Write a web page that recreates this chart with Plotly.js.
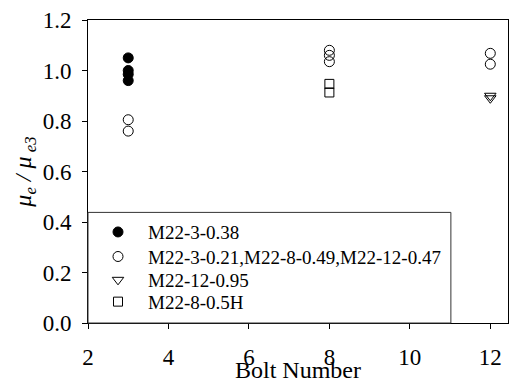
<!DOCTYPE html>
<html>
<head>
<meta charset="utf-8">
<script src="https://cdn.plot.ly/plotly-3.0.1.min.js"></script>
<style>
  html, body { margin: 0; padding: 0; background: #fff; }
  #chart { width: 511px; height: 383px; }
</style>
</head>
<body>
<div id="chart"></div>
<script>
// Normalised friction coefficient against bolt number
const seriesNames = [
  'M22-3-0.38',
  'M22-3-0.21,M22-8-0.49,M22-12-0.47',
  'M22-12-0.95',
  'M22-8-0.5H'
];
const boltsFilled = [3, 3, 3, 3];
const ratioFilled = [1.05, 1.00, 0.985, 0.96];

const boltsOpen = [3, 3, 8, 8, 8, 12, 12];
const ratioOpen = [0.805, 0.76, 1.08, 1.06, 1.035, 1.068, 1.025];

const boltsTriangle = [12, 12];
const ratioTriangle = [0.90, 0.89];

const boltsSquare = [8, 8];
const ratioSquare = [0.947, 0.913];

const xTicks = [2, 4, 6, 8, 10, 12];
const yTicks = [0.0, 0.2, 0.4, 0.6, 0.8, 1.0, 1.2];

const serif = 'Liberation Serif, serif';

// each series gets its own legend row so the rows can sit close together
const legendIds = ['legend', 'legend2', 'legend3', 'legend4'];
const legendRowY = [0.300, 0.219, 0.142, 0.070];

function series(i, x, y, symbol, size) {
  return {
    type: 'scatter', mode: 'markers', name: seriesNames[i], x: x, y: y,
    legend: legendIds[i],
    marker: {
      symbol: symbol, size: size, color: '#000',
      line: { color: '#000', width: 1 }
    },
    cliponaxis: false
  };
}

const data = [
  series(0, boltsFilled, ratioFilled, 'circle', 10),
  series(1, boltsOpen, ratioOpen, 'circle-open', 10),
  series(2, boltsTriangle, ratioTriangle, 'triangle-down-open', 10),
  series(3, boltsSquare, ratioSquare, 'square-open', 9)
];

function legendRow(i) {
  return {
    x: 0, y: legendRowY[i], xanchor: 'left', yanchor: 'middle',
    bgcolor: 'rgba(0,0,0,0)', borderwidth: 0,
    font: { family: serif, size: 19, color: '#000' },
    itemwidth: 50
  };
}

const layout = {
  width: 511, height: 383,
  margin: { l: 88, r: 3, t: 20, b: 60 },
  paper_bgcolor: '#fff', plot_bgcolor: '#fff',
  font: { family: serif, color: '#000', size: 23 },
  showlegend: true,
  legend: legendRow(0),
  legend2: legendRow(1),
  legend3: legendRow(2),
  legend4: legendRow(3),
  shapes: [{
    type: 'rect', xref: 'paper', yref: 'paper',
    x0: 0, x1: 0.864, y0: 0, y1: 0.365,
    fillcolor: '#fff', layer: 'above',
    line: { color: '#333', width: 1 }
  }],
  xaxis: {
    range: [2, 12.44], tickvals: xTicks, ticktext: xTicks.map(String),
    showgrid: false, zeroline: false,
    showline: true, linecolor: '#000', linewidth: 1, mirror: true,
    ticks: 'outside', ticklen: 5, tickcolor: '#000',
    ticklabelstandoff: 8,
    tickfont: { family: serif, size: 23 },
    title: { text: 'Bolt Number', font: { family: serif, size: 24 }, standoff: 4 }
  },
  yaxis: {
    range: [0, 1.2], tickvals: yTicks, ticktext: yTicks.map(v => v.toFixed(1)),
    showgrid: false, zeroline: false,
    showline: true, linecolor: '#000', linewidth: 1, mirror: true,
    ticks: 'outside', ticklen: 5, tickcolor: '#000',
    ticklabelstandoff: 6,
    tickfont: { family: serif, size: 23 },
    title: {
      text: '<i>μ</i><sub><i>e</i></sub> <i>/</i> <i>μ</i><sub> <i>e3</i></sub>',
      font: { family: serif, size: 24 }, standoff: 4
    }
  }
};

Plotly.newPlot('chart', data, layout, { displayModeBar: false, staticPlot: true });
</script>
</body>
</html>
